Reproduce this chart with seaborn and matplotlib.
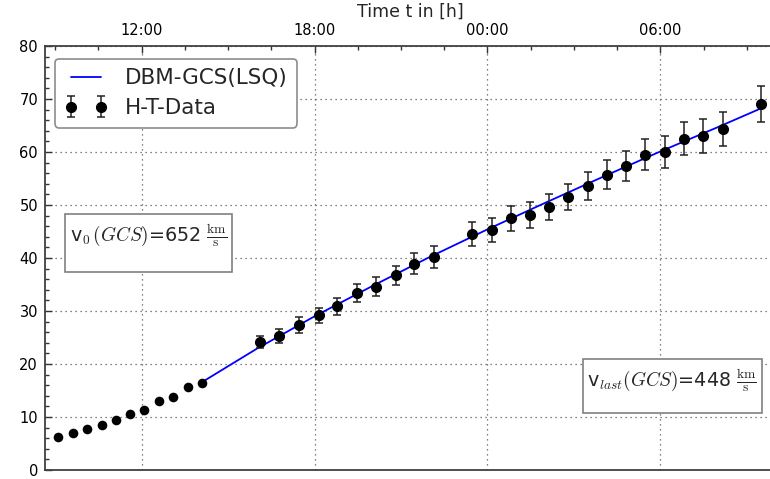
import matplotlib
matplotlib.use("Agg")
import matplotlib.pyplot as plt
import matplotlib.ticker as mticker
import seaborn as sns
import numpy as np
import pandas as pd

# ---- data (hours since 00:00 of first day) ----
t_early = [9.10, 9.60, 10.09, 10.61, 11.11, 11.59, 12.08, 12.61, 13.10, 13.60, 14.10]
r_early = [6.2, 7.0, 7.7, 8.5, 9.5, 10.5, 11.3, 13.0, 13.8, 15.7, 16.5]

t_gcs = [16.11, 16.78, 17.46, 18.15, 18.79, 19.47, 20.14, 20.82, 21.45, 22.14,
         23.46, 24.15, 24.82, 25.49, 26.14, 26.81, 27.49, 28.16, 28.81, 29.48,
         30.17, 30.82, 31.49, 32.16, 33.48]
r_gcs = [24.1, 25.2, 27.3, 29.2, 30.9, 33.4, 34.6, 36.7, 38.9, 40.2,
         44.5, 45.3, 47.5, 48.2, 49.6, 51.5, 53.6, 55.7, 57.4, 59.5,
         60.0, 62.5, 63.0, 64.3, 69.1]
r_err = [1.13, 1.32, 1.51, 1.45, 1.64, 1.64, 1.76, 1.86, 1.98, 2.04,
         2.23, 2.23, 2.36, 2.45, 2.52, 2.52, 2.61, 2.77, 2.86, 2.96,
         3.02, 3.11, 3.18, 3.24, 3.37]

fit_t = [14.10, 16.0, 18.0, 20.0, 22.0, 24.0, 26.0, 28.0, 30.0, 32.0, 33.48]
fit_r = [16.6, 22.9, 29.0, 34.7, 40.2, 45.4, 50.4, 55.3, 60.1, 64.7, 68.2]

xtick_hours = [12, 18, 24, 30]
xtick_labels = ["12:00", "18:00", "00:00", "06:00"]
ytick_values = [0, 10, 20, 30, 40, 50, 60, 70, 80]

v0_text = r"v$_0\,(GCS)$=652 $\frac{\rm km}{\rm s}$"
vlast_text = r"v$_{last}(GCS)$=448 $\frac{\rm km}{\rm s}$"

# ---- style ----
sns.set_style("white")
plt.rcParams["font.family"] = ["DejaVu Sans"]
plt.rcParams["mathtext.fontset"] = "cm"

fig = plt.figure(figsize=(7.7, 4.79), dpi=100)
ax = fig.add_axes([45 / 770, 9 / 479, 730 / 770, 424 / 479])

fit_df = pd.DataFrame({"t": fit_t, "r": fit_r})
early_df = pd.DataFrame({"t": t_early, "r": r_early})

sns.lineplot(data=fit_df, x="t", y="r", color="#0000ff", lw=1.3,
             ax=ax, label="DBM-GCS(LSQ)", zorder=3)
sns.scatterplot(data=early_df, x="t", y="r", color="black", s=48,
                edgecolor="black", linewidth=0, ax=ax, zorder=4, legend=False)
eb = ax.errorbar(t_gcs, r_gcs, yerr=r_err, fmt="o", color="black",
                 ecolor="#222222", elinewidth=1.1, capsize=3.1, capthick=1.1,
                 markersize=7.0, zorder=4, label="H-T-Data")

ax.set_xlim(8.644, 33.98)
ax.set_ylim(0, 80)

# axes / ticks
ax.xaxis.tick_top()
ax.xaxis.set_label_position("top")
ax.set_xticks(xtick_hours)
ax.set_xticklabels(xtick_labels)
ax.xaxis.set_minor_locator(mticker.MultipleLocator(1.5))
ax.set_yticks(ytick_values)
ax.yaxis.set_minor_locator(mticker.MultipleLocator(2))
ax.tick_params(axis="both", which="both", direction="in", colors="0.2",
               labelcolor="black", labelsize=10.5)
ax.tick_params(axis="x", which="major", length=5, width=1, pad=6,
               top=True, bottom=False)
ax.tick_params(axis="x", which="minor", length=3, width=1, top=True, bottom=False)
ax.tick_params(axis="y", which="major", length=5, width=1, pad=5, left=True)
ax.tick_params(axis="y", which="minor", length=3, width=1, left=True)
ax.set_xlabel("Time t in [h]", fontsize=12.5, labelpad=4)
ax.set_ylabel("")

for s in ax.spines.values():
    s.set_linewidth(1.3)
    s.set_color("0.25")

ax.grid(True, which="major", linestyle=(0, (1, 3)), color="0.35", linewidth=0.9)

# legend
line_handle = ax.get_lines()[0]
leg = ax.legend(handles=[line_handle, eb], labels=["DBM-GCS(LSQ)", "H-T-Data"],
                loc="upper left", bbox_to_anchor=(0.0137, 0.97),
                fontsize=15.5, numpoints=2, handlelength=2.0, fancybox=True,
                framealpha=1, edgecolor="0.55", borderpad=0.45,
                labelspacing=0.45, handletextpad=0.8, borderaxespad=0)
leg.get_frame().set_linewidth(1.2)

# annotation boxes
box = dict(boxstyle="square,pad=0.25", fc="white", ec="0.5", lw=1.2)
ax.text(9.52, 46.8, v0_text + "\n ", fontsize=13.8, ha="left", va="top",
        bbox=box, zorder=5, linespacing=1.05)
ax.text(27.47, 19.4, vlast_text + "\n ", fontsize=13.8, ha="left", va="top",
        bbox=box, zorder=5, linespacing=0.72)

fig.savefig("out.png", dpi=100)
